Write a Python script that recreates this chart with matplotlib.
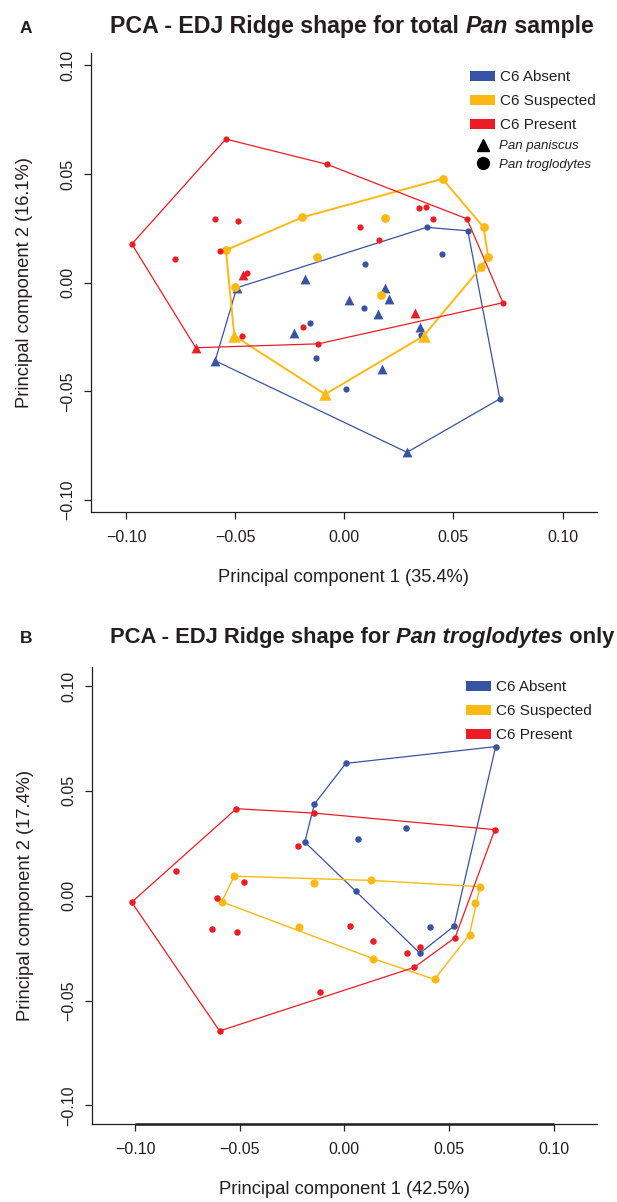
import matplotlib.pyplot as plt
import numpy as np
from matplotlib.lines import Line2D
from matplotlib.patches import Patch

# Panel A: total Pan sample. species: 'pp' = Pan paniscus, 'pt' = Pan troglodytes
a_absent_pc1 = [-0.0493, -0.0592, 0.0287, 0.0713, 0.0566, 0.0378, -0.0180, 0.0021, 0.0154,
                -0.0232, 0.0187, 0.0207, 0.0348, 0.0172, 0.0094, 0.0089, -0.0158, -0.0131,
                0.0448, 0.0351, 0.0007]
a_absent_pc2 = [-0.0023, -0.0359, -0.0780, -0.0534, 0.0239, 0.0255, 0.0017, -0.0078, -0.0145,
                -0.0230, -0.0026, -0.0075, -0.0202, -0.0398, 0.0086, -0.0115, -0.0184, -0.0345,
                0.0133, -0.0241, -0.0490]
a_absent_sp = ['pp', 'pp', 'pp', 'pt', 'pt', 'pt', 'pp', 'pp', 'pp',
               'pp', 'pp', 'pp', 'pp', 'pp', 'pt', 'pt', 'pt', 'pt',
               'pt', 'pt', 'pt']

a_suspected_pc1 = [-0.0543, -0.0193, 0.0450, 0.0638, 0.0659, 0.0627, 0.0363, -0.0088, -0.0504,
                   -0.0125, 0.0187, 0.0169, -0.0501]
a_suspected_pc2 = [0.0150, 0.0301, 0.0478, 0.0255, 0.0120, 0.0072, -0.0245, -0.0513, -0.0244,
                   0.0120, 0.0299, -0.0057, -0.0018]
a_suspected_sp = ['pt', 'pt', 'pt', 'pt', 'pt', 'pt', 'pp', 'pp', 'pp',
                  'pt', 'pt', 'pt', 'pt']

a_present_pc1 = [-0.0974, -0.0543, -0.0080, 0.0562, 0.0727, -0.0119, -0.0681, -0.0592, -0.0487,
                 -0.0777, -0.0571, -0.0465, -0.0448, 0.0074, -0.0470, -0.0190, 0.0158, 0.0340,
                 0.0374, 0.0406, 0.0323]
a_present_pc2 = [0.0178, 0.0661, 0.0545, 0.0294, -0.0092, -0.0281, -0.0299, 0.0294, 0.0284,
                 0.0110, 0.0147, 0.0035, 0.0046, 0.0255, -0.0244, -0.0204, 0.0196, 0.0344,
                 0.0347, 0.0292, -0.0141]
a_present_sp = ['pt', 'pt', 'pt', 'pt', 'pt', 'pt', 'pp', 'pt', 'pt',
                'pt', 'pt', 'pp', 'pt', 'pt', 'pt', 'pt', 'pt', 'pt',
                'pt', 'pt', 'pp']

# Panel B: Pan troglodytes only
b_absent_pc1 = [0.0007, -0.0143, -0.0189, 0.0064, 0.0057, 0.0723, 0.0295, 0.0361, 0.0524, 0.0411]
b_absent_pc2 = [0.0631, 0.0437, 0.0256, 0.0272, 0.0024, 0.0711, 0.0324, -0.0274, -0.0145, -0.0148]

b_suspected_pc1 = [-0.0526, -0.0586, -0.0146, 0.0129, 0.0648, 0.0622, -0.0218, 0.0137, 0.0431, 0.0598]
b_suspected_pc2 = [0.0093, -0.0029, 0.0061, 0.0073, 0.0043, -0.0036, -0.0150, -0.0300, -0.0399, -0.0185]

b_present_pc1 = [-0.1016, -0.0516, -0.0146, 0.0719, 0.0529, 0.0333, -0.0596, -0.0806, -0.0220,
                 -0.0481, -0.0610, -0.0632, -0.0514, 0.0025, 0.0137, 0.0300, 0.0361, -0.0117]
b_present_pc2 = [-0.0031, 0.0415, 0.0394, 0.0315, -0.0200, -0.0342, -0.0645, 0.0119, 0.0236,
                 0.0064, -0.0010, -0.0158, -0.0172, -0.0144, -0.0216, -0.0274, -0.0243, -0.0461]

group_labels = ['C6 Absent', 'C6 Suspected', 'C6 Present']
species_labels = ['Pan paniscus', 'Pan troglodytes']
ticks = [-0.10, -0.05, 0.00, 0.05, 0.10]

BLUE = '#3953A4'
YELLOW = '#FDB913'
RED = '#ED1C24'
INK = '#231F20'
SANS = ['Liberation Sans', 'DejaVu Sans']


def convex_hull(x, y):
    pts = sorted(set(zip(x, y)))

    def cross(o, a, b):
        return (a[0] - o[0]) * (b[1] - o[1]) - (a[1] - o[1]) * (b[0] - o[0])

    lower, upper = [], []
    for p in pts:
        while len(lower) >= 2 and cross(lower[-2], lower[-1], p) <= 0:
            lower.pop()
        lower.append(p)
    for p in reversed(pts):
        while len(upper) >= 2 and cross(upper[-2], upper[-1], p) <= 0:
            upper.pop()
        upper.append(p)
    hull = lower[:-1] + upper[:-1]
    hull.append(hull[0])
    return np.array(hull)


def tick_text(v):
    return ('%.2f' % v).replace('-', '\u2212')


def style_axes(ax, xlim, ylim, xlabel, ylabel, thick_axis=False):
    ax.set_xlim(*xlim)
    ax.set_ylim(*ylim)
    for side in ['top', 'right']:
        ax.spines[side].set_visible(False)
    for side in ['left', 'bottom']:
        ax.spines[side].set_color(INK)
        ax.spines[side].set_linewidth(0.9)
    ax.set_xticks(ticks)
    ax.set_xticklabels([tick_text(t) for t in ticks], family=SANS, fontsize=11.5, color=INK)
    ax.set_yticks(ticks)
    ax.set_yticklabels([tick_text(t) for t in ticks], family=SANS, fontsize=11.5, color=INK,
                       rotation=90, va='center')
    ax.tick_params(direction='out', length=5, width=0.9, color=INK)
    ax.tick_params(axis='x', pad=8)
    ax.tick_params(axis='y', pad=6)
    ax.set_xlabel(xlabel, family=SANS, fontsize=13.2, color=INK, labelpad=17)
    ax.set_ylabel(ylabel, family=SANS, fontsize=13.2, color=INK, labelpad=20)
    if thick_axis:
        ax.plot([ticks[0], ticks[-1]], [ylim[0], ylim[0]], color=INK, lw=1.8,
                clip_on=False, solid_capstyle='butt', zorder=5)


def draw_groups(ax, groups):
    for g in groups:
        hull = convex_hull(g['pc1'], g['pc2'])
        ax.plot(hull[:, 0], hull[:, 1], color=g['color'], lw=g['lw'], zorder=2)
    for g in groups:
        pc1 = np.array(g['pc1'])
        pc2 = np.array(g['pc2'])
        sp = np.array(g['sp'])
        circ = sp == 'pt'
        tri = sp == 'pp'
        ax.scatter(pc1[circ], pc2[circ], s=g['s_circ'], color=g['color'], marker='o',
                   linewidths=0, zorder=3)
        if tri.any():
            ax.scatter(pc1[tri], pc2[tri], s=g['s_tri'], color=g['color'], marker='^',
                       linewidths=0, zorder=3)


def mixed_title(fig, ax, x, y, parts, size):
    prev = None
    for text, style in parts:
        kw = dict(fontsize=size, fontweight='bold', fontstyle=style, family=SANS, color=INK)
        if prev is None:
            prev = fig.text(x, y, text, ha='left', va='baseline', **kw)
        else:
            prev = ax.annotate(text, xy=(1, 0), xycoords=prev, ha='left', va='bottom', **kw)


W, H = 617, 1202
fig = plt.figure(figsize=(W / 100, H / 100), dpi=100)

ax_a = fig.add_axes([91 / W, 1 - 512.3 / H, (597 - 91) / W, (512.3 - 53) / H])
ax_b = fig.add_axes([91.7 / W, 1 - 1124.3 / H, (597 - 91.7) / W, (1124.3 - 666.7) / H])

groups_a = [
    dict(pc1=a_absent_pc1, pc2=a_absent_pc2, sp=a_absent_sp, color=BLUE, lw=0.9,
         s_circ=20, s_tri=50),
    dict(pc1=a_suspected_pc1, pc2=a_suspected_pc2, sp=a_suspected_sp, color=YELLOW, lw=1.4,
         s_circ=40, s_tri=80),
    dict(pc1=a_present_pc1, pc2=a_present_pc2, sp=a_present_sp, color=RED, lw=0.9,
         s_circ=20, s_tri=50),
]
draw_groups(ax_a, groups_a)
style_axes(ax_a, (-0.1161, 0.1158), (-0.1056, 0.1057),
           'Principal component 1 (35.4%)', 'Principal component 2 (16.1%)')

groups_b = [
    dict(pc1=b_absent_pc1, pc2=b_absent_pc2, sp=['pt'] * len(b_absent_pc1), color=BLUE, lw=0.9,
         s_circ=22, s_tri=50),
    dict(pc1=b_suspected_pc1, pc2=b_suspected_pc2, sp=['pt'] * len(b_suspected_pc1), color=YELLOW,
         lw=1.0, s_circ=34, s_tri=60),
    dict(pc1=b_present_pc1, pc2=b_present_pc2, sp=['pt'] * len(b_present_pc1), color=RED, lw=0.9,
         s_circ=22, s_tri=50),
]
draw_groups(ax_b, groups_b)
style_axes(ax_b, (-0.1207, 0.1207), (-0.109, 0.1092),
           'Principal component 1 (42.5%)', 'Principal component 2 (17.4%)', thick_axis=True)

# legends
colors = [BLUE, YELLOW, RED]
leg_kw = dict(loc='upper left', bbox_transform=fig.transFigure, frameon=False,
              prop=dict(family=SANS, size=11), handlelength=1.64, handleheight=0.65,
              handletextpad=0.3, labelspacing=0.66, borderpad=0, borderaxespad=0)

handles_col = [Patch(facecolor=c, edgecolor='none') for c in colors]
leg_a = ax_a.legend(handles_col, group_labels, bbox_to_anchor=(470 / W, 1 - 70 / H), **leg_kw)
for t in leg_a.get_texts():
    t.set_color(INK)
ax_a.add_artist(leg_a)

handles_sp = [Line2D([], [], ls='none', marker='^', color='black', ms=9),
              Line2D([], [], ls='none', marker='o', color='black', ms=8.5)]
leg_sp = ax_a.legend(handles_sp, species_labels, loc='upper left',
                     bbox_to_anchor=(470 / W, 1 - 140 / H), bbox_transform=fig.transFigure,
                     frameon=False, prop=dict(family=SANS, size=9.5, style='italic'),
                     handlelength=1.9, handletextpad=0.3, labelspacing=0.5,
                     borderpad=0, borderaxespad=0)
for t in leg_sp.get_texts():
    t.set_color(INK)

leg_b = ax_b.legend(handles_col, group_labels, bbox_to_anchor=(466 / W, 1 - 680 / H), **leg_kw)
for t in leg_b.get_texts():
    t.set_color(INK)

# panel letters and titles
fig.text(20 / W, 1 - 33 / H, 'A', fontsize=12.5, fontweight='bold', family=SANS, color=INK)
fig.text(20 / W, 1 - 643 / H, 'B', fontsize=12.5, fontweight='bold', family=SANS, color=INK)
mixed_title(fig, ax_a, 110 / W, 1 - 33 / H,
            [('PCA - EDJ Ridge shape for total ', 'normal'), ('Pan', 'italic'),
             (' sample', 'normal')], 16.7)
mixed_title(fig, ax_b, 110 / W, 1 - 643 / H,
            [('PCA - EDJ Ridge shape for ', 'normal'), ('Pan troglodytes', 'italic'),
             (' only', 'normal')], 15.8)

fig.savefig('out.png', dpi=100)
